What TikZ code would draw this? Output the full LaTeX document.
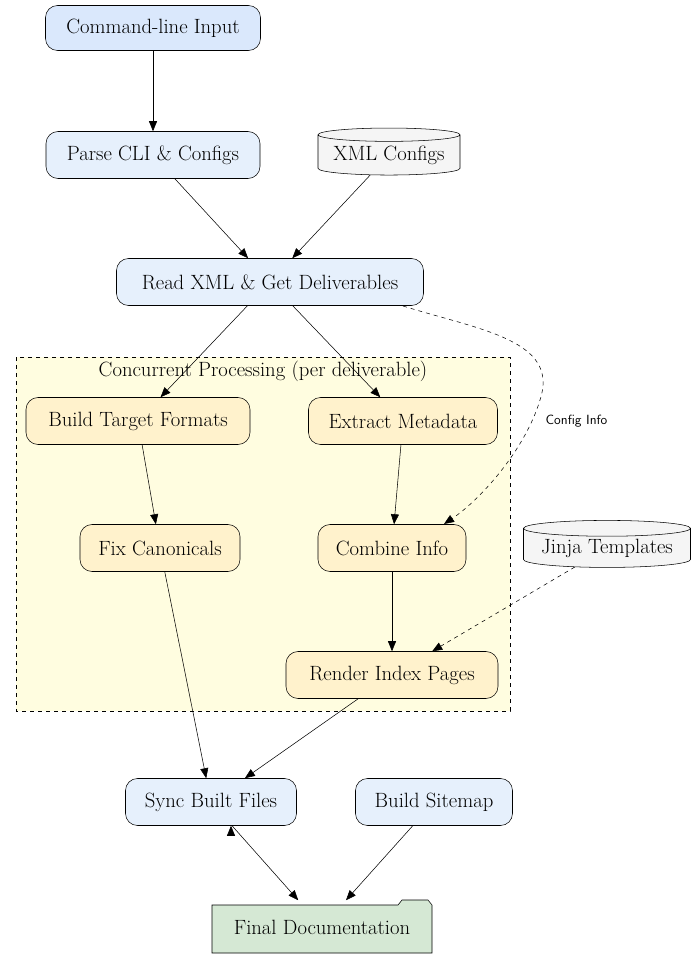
\documentclass[tikz,border=0pt]{standalone}
\usetikzlibrary{shapes.geometric,arrows.meta}
\begin{document}
\begin{tikzpicture}[x=0.75pt,y=-0.75pt,
  fnt/.style={font=\fontsize{15.5}{18}\selectfont},
  box/.style={draw,rounded corners=9pt,minimum height=35.25pt,inner sep=0pt,fnt},
  blue1/.style={box,fill={rgb,255:red,218;green,232;blue,252}},
  blue2/.style={box,fill={rgb,255:red,230;green,240;blue,252}},
  org/.style={box,fill={rgb,255:red,255;green,242;blue,204}},
  cyl/.style={draw,cylinder,shape border rotate=90,aspect=0.12,fill={rgb,255:red,245;green,245;blue,245},minimum height=35.25pt,inner sep=0pt,fnt},
  arr/.style={-{Triangle[length=7.5pt,width=6pt]}},
  darr/.style={arr,dashed}]
\useasboundingbox (0,0) rectangle (697,959);
\draw[dashed,fill={rgb,255:red,255;green,253;blue,224}] (16,357) rectangle (510,711);
\node[fnt] (cl) at (263,371) {Concurrent Processing (per deliverable)};
\node[blue1,minimum width=161.25pt,minimum height=33.75pt] (cmd) at (153,28) {Command-line Input};
\node[blue2,minimum width=160.5pt] (parse) at (153,155) {Parse CLI \& Configs};
\node[cyl,minimum width=106.5pt] (xml) at (389,155) {XML Configs};
\node[blue2,minimum width=230.25pt] (read) at (270,282) {Read XML \& Get Deliverables};
\node[org,minimum width=168pt] (build) at (138,421) {Build Target Formats};
\node[org,minimum width=141.75pt] (ext) at (403,421) {Extract Metadata};
\node[org,minimum width=120pt] (fix) at (160,548) {Fix Canonicals};
\node[org,minimum width=111pt] (comb) at (392,548) {Combine Info};
\node[cyl,minimum width=125.25pt] (jinja) at (607,548) {Jinja Templates};
\node[org,minimum width=159pt] (rend) at (392,675) {Render Index Pages};
\node[blue2,minimum width=128.25pt] (sync) at (211,802) {Sync Built Files};
\node[blue2,minimum width=117.75pt] (site) at (434,802) {Build Sitemap};
\draw[fill={rgb,255:red,213;green,232;blue,212}] (212,953) -- (212,905) -- (398,905) -- (402,900) -- (428,900) -- (432,905) -- (432,953) -- cycle;
\node[fnt,minimum width=165pt,minimum height=39.75pt,inner sep=0pt] (fin) at (322,927) {Final Documentation};
\draw[arr] (cmd) -- (parse);
\draw[arr] (parse) -- (read);
\draw[arr] (xml) -- (read);
\draw[arr] (read) -- (build);
\draw[arr] (read) -- (ext);
\draw[arr] (build) -- (fix);
\draw[arr] (ext) -- (comb);
\draw[arr] (comb) -- (rend);
\draw[arr] (fix) -- (sync);
\draw[arr] (rend) -- (sync);
\draw[arr] (sync.south) ++(20,0) coordinate (s1);
\draw[arr] (sync) -- (fin);
\draw[arr] (site) -- (fin);
\coordinate (rs) at (403,306);
\draw[darr] (rs) .. controls (480,330) and (560,340) .. (540,400) .. controls (525,450) and (480,500) .. (444,524);
\node[anchor=west,font=\sffamily\fontsize{10}{12}\selectfont] (lab) at (541,421) {Config Info};
\draw[darr] (jinja) -- (rend);
\end{tikzpicture}
\end{document}
